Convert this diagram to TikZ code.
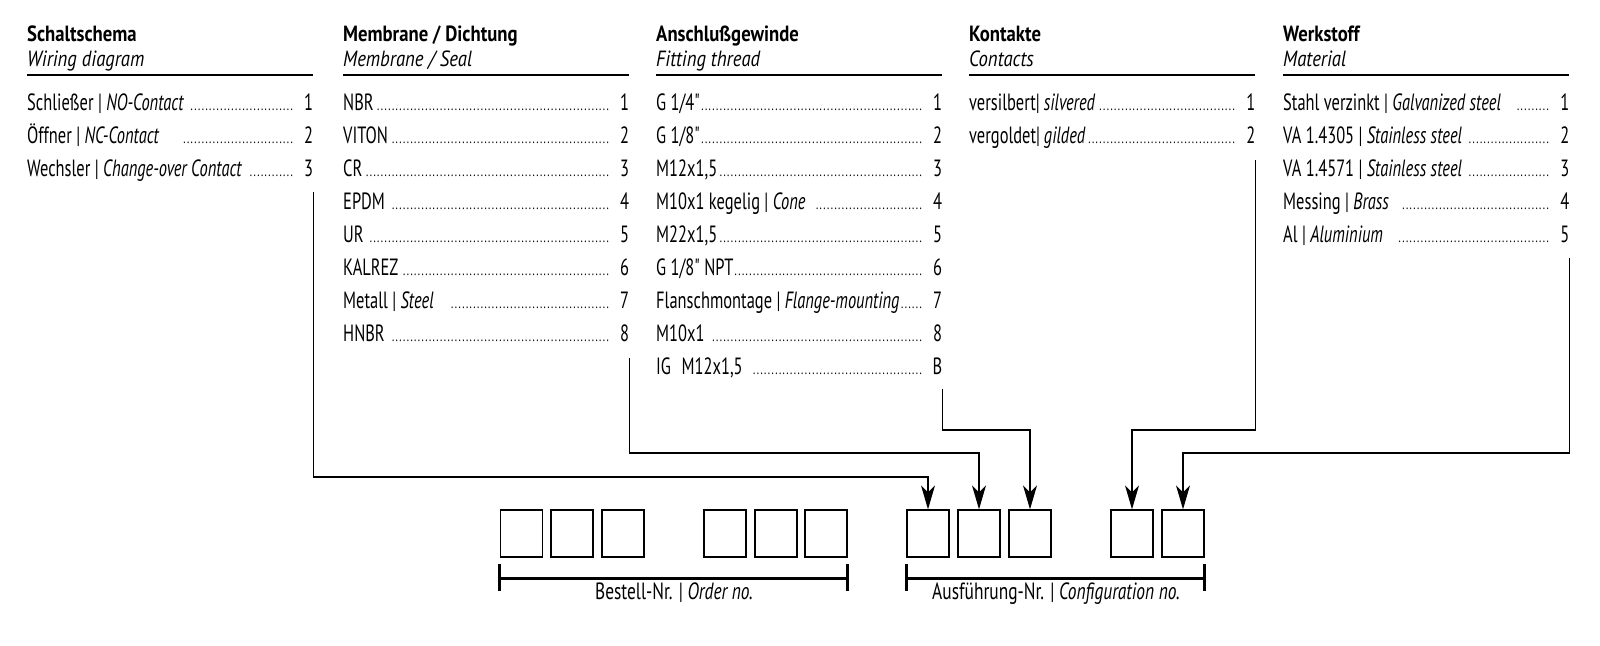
\documentclass[tikz,border=0pt]{standalone}
\usepackage{fontspec}
\newfontfamily\itemfont{PT Sans}[FakeStretch=0.70]
\newfontfamily\hdrfont{PT Sans}[FakeStretch=0.85]
\newfontfamily\labfont{PT Sans}[FakeStretch=0.74]
\usetikzlibrary{arrows.meta,calc}
\newcommand{\dotlead}{\leaders\hbox to 3.7pt{\hss{\fontsize{15}{15}\selectfont.}\hss}\hfill}
\newcommand{\entry}[3][1pt]{\hbox to 286pt{#2\hspace{#1}\dotlead\hspace{7pt}#3}}
\tikzset{
  itm/.style={anchor=base west, inner sep=0pt, font=\itemfont\fontsize{23.5}{26}\selectfont},
  hdr/.style={anchor=base west, inner sep=0pt, font=\hdrfont\fontsize{22}{26}\selectfont\bfseries},
  sub/.style={anchor=base west, inner sep=0pt, font=\hdrfont\fontsize{22}{26}\selectfont\itshape},
  hrule/.style={line width=2pt},
  conn/.style={line width=1.3pt, -{Stealth[length=24pt,width=14pt,inset=7pt]}},
  cell/.style={draw, line width=1.3pt, minimum width=42pt, minimum height=47pt, inner sep=0pt},
  brk/.style={line width=3pt},
  lab/.style={anchor=base, inner sep=0pt, font=\labfont\fontsize{23.5}{26}\selectfont},
}
\begin{document}
\begin{tikzpicture}[x=1pt,y=-1pt]
\useasboundingbox[fill=white] (0,0) rectangle (1600,645);

% ---- column 1
\node[hdr] (h1) at (27,41) {Schaltschema};
\node[sub] (s1) at (27,66) {Wiring diagram};
\draw[hrule] (27,75) -- (313,75);
\node[itm] (a1) at (27,110) {\entry[3pt]{Schließer | \textit{NO-Contact}}{1}};
\node[itm] (a2) at (27,143) {\entry[22pt]{Öffner | \textit{NC-Contact}}{2}};
\node[itm] (a3) at (27,176) {\entry[5pt]{Wechsler | \textit{Change-over Contact}}{3}};

% ---- column 2
\node[hdr] (h2) at (343,41) {Membrane / Dichtung};
\node[sub] (s2) at (343,66) {Membrane / Seal};
\draw[hrule] (343,75) -- (629,75);
\node[itm] (b1) at (343,110) {\entry[0pt]{NBR}{1}};
\node[itm] (b2) at (343,143) {\entry[0pt]{VITON}{2}};
\node[itm] (b3) at (343,176) {\entry[0pt]{CR}{3}};
\node[itm] (b4) at (343,209) {\entry[5pt]{EPDM}{4}};
\node[itm] (b5) at (343,242) {\entry[5pt]{UR}{5}};
\node[itm] (b6) at (343,275) {\entry[2pt]{KALREZ}{6}};
\node[itm] (b7) at (343,308) {\entry[15pt]{Metall | \textit{Steel}}{7}};
\node[itm] (b8) at (343,341) {\entry[5pt]{HNBR}{8}};

% ---- column 3
\node[hdr] (h3) at (656,41) {Anschlußgewinde};
\node[sub] (s3) at (656,66) {Fitting thread};
\draw[hrule] (656,75) -- (942,75);
\node[itm] (c1) at (656,110) {\entry[0pt]{G 1/4"}{1}};
\node[itm] (c2) at (656,143) {\entry[0pt]{G 1/8"}{2}};
\node[itm] (c3) at (656,176) {\entry[1pt]{M12x1,5}{3}};
\node[itm] (c4) at (656,209) {\entry[9pt]{M10x1 kegelig | \textit{Cone}}{4}};
\node[itm] (c5) at (656,242) {\entry[1pt]{M22x1,5}{5}};
\node[itm] (c6) at (656,275) {\entry[0pt]{G 1/8" NPT}{6}};
\node[itm] (c7) at (656,308) {\entry[0pt]{Flanschmontage | \textit{Flange-mounting}}{7}};
\node[itm] (c8) at (656,341) {\entry[7pt]{M10x1}{8}};
\node[itm] (c9) at (656,374) {\entry[7pt]{IG\hspace{0.45em}M12x1,5}{B}};

% ---- column 4
\node[hdr] (h4) at (969,41) {Kontakte};
\node[sub] (s4) at (969,66) {Contacts};
\draw[hrule] (969,75) -- (1255,75);
\node[itm] (d1) at (969,110) {\entry[0pt]{versilbert|\,\textit{silvered}}{1}};
\node[itm] (d2) at (969,143) {\entry[1pt]{vergoldet|\,\textit{gilded}}{2}};

% ---- column 5
\node[hdr] (h5) at (1283,41) {Werkstoff};
\node[sub] (s5) at (1283,66) {Material};
\draw[hrule] (1283,75) -- (1569,75);
\node[itm] (e1) at (1283,110) {\entry[12pt]{Stahl verzinkt | \textit{Galvanized steel}}{1}};
\node[itm] (e2) at (1283,143) {\entry[4pt]{VA 1.4305 | \textit{Stainless steel}}{2}};
\node[itm] (e3) at (1283,176) {\entry[4pt]{VA 1.4571 | \textit{Stainless steel}}{3}};
\node[itm] (e4) at (1283,209) {\entry[10pt]{Messing | \textit{Brass}}{4}};
\node[itm] (e5) at (1283,242) {\entry[12pt]{Al | \textit{Aluminium}}{5}};

% ---- boxes
\foreach \n/\x in {1/521.5,2/572,3/623,4/725,5/776,6/826}
  \node[cell] (o\n) at (\x,533.5) {};
\foreach \n/\x in {1/928,2/979,3/1030,4/1132,5/1183}
  \node[cell] (k\n) at (\x,533.5) {};

% ---- brackets
\draw[brk] (o1.west |- 0,564) -- (o1.west |- 0,591)
           (o1.west |- 0,578) -- (o6.east |- 0,578)
           (o6.east |- 0,564) -- (o6.east |- 0,591);
\draw[brk] (k1.west |- 0,564) -- (k1.west |- 0,591)
           (k1.west |- 0,578) -- (k5.east |- 0,578)
           (k5.east |- 0,564) -- (k5.east |- 0,591);
\node[lab] (ol) at (674,599) {Bestell-Nr. | \textit{Order no.}};
\node[lab] (kl) at (1056,599) {Ausführung-Nr. | \textit{Configuration no.}};

% ---- connectors
\coordinate (pa) at ($(a3.base east)+(0,16)$);
\coordinate (pb) at ($(b8.base east)+(0,17)$);
\coordinate (pc) at ($(c9.base east)+(0,15)$);
\coordinate (pd) at ($(d2.base east)+(0,17)$);
\coordinate (pe) at ($(e5.base east)+(0,16)$);
\draw[conn] (pa) |- (k1.north |- 0,477) -- (k1.north);
\draw[conn] (pb) |- (k2.north |- 0,453) -- (k2.north);
\draw[conn] (pc) |- (k3.north |- 0,430) -- (k3.north);
\draw[conn] (pd) |- (k4.north |- 0,430) -- (k4.north);
\draw[conn] (pe) |- (k5.north |- 0,453) -- (k5.north);
\end{tikzpicture}
\end{document}
